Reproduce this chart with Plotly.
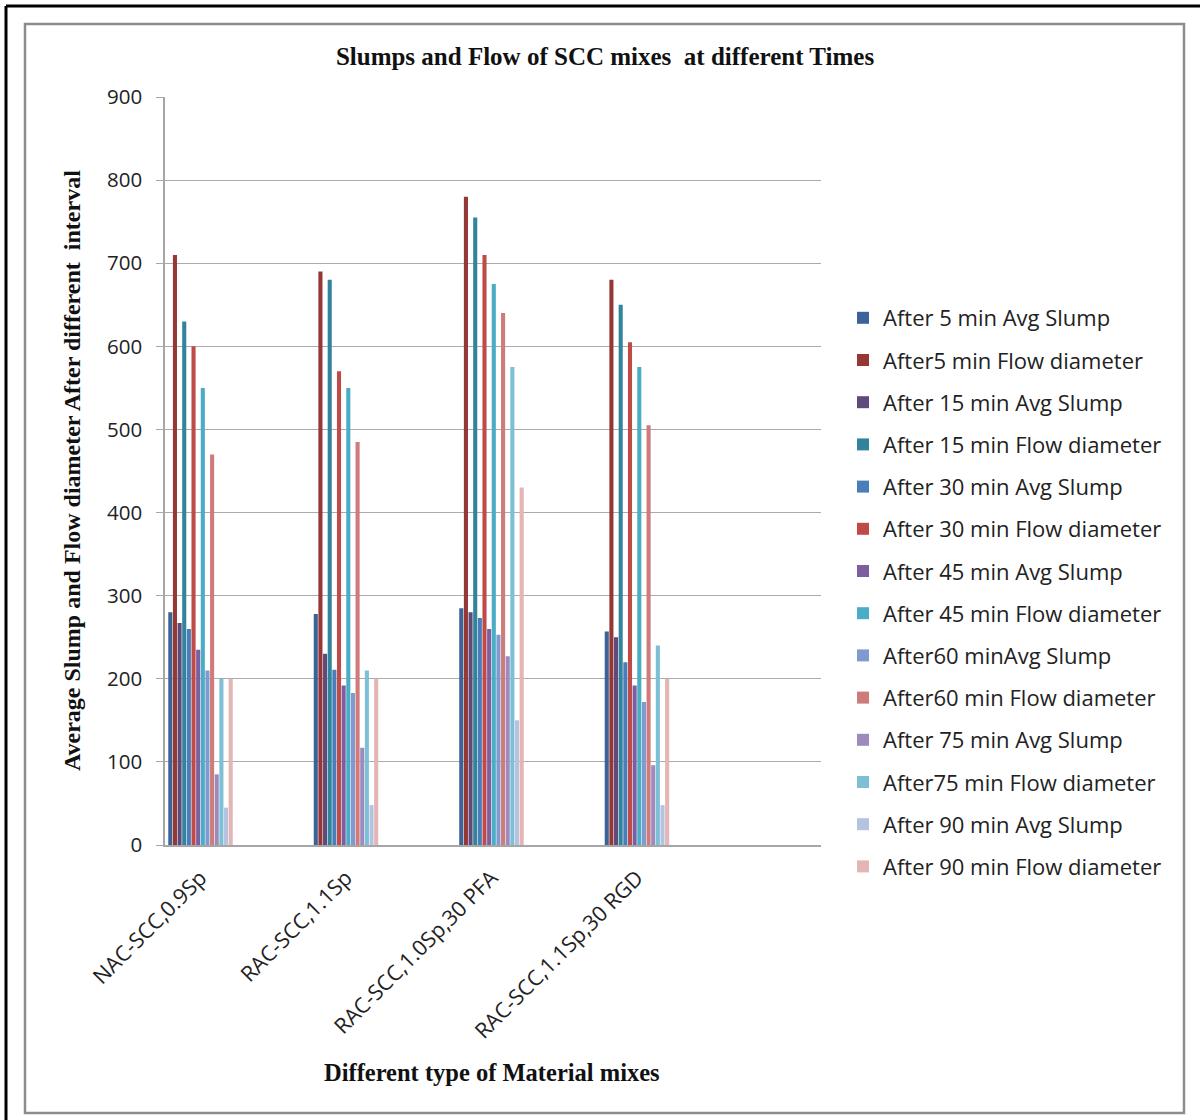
import plotly.graph_objects as go

# Mix designs on the category axis
mixes = ["NAC-SCC,0.9Sp", "RAC-SCC,1.1Sp", "RAC-SCC,1.0Sp,30 PFA", "RAC-SCC,1.1Sp,30 RGD"]

# Slump / flow readings (mm) for each mix, one list per time step
slump_5 = [280, 278, 285, 257]
flow_5 = [710, 690, 780, 680]
slump_15 = [267, 230, 280, 250]
flow_15 = [630, 680, 755, 650]
slump_30 = [260, 211, 273, 220]
flow_30 = [600, 570, 710, 605]
slump_45 = [235, 192, 260, 192]
flow_45 = [550, 550, 675, 575]
slump_60 = [210, 183, 253, 172]
flow_60 = [470, 485, 640, 505]
slump_75 = [85, 117, 227, 96]
flow_75 = [200, 210, 575, 240]
slump_90 = [45, 48, 150, 48]
flow_90 = [200, 200, 430, 200]

series_names = [
    "After 5 min Avg Slump", "After5 min Flow diameter",
    "After 15 min Avg Slump", "After 15 min Flow diameter",
    "After 30 min Avg Slump", "After 30 min Flow diameter",
    "After 45 min Avg Slump", "After 45 min Flow diameter",
    "After60 minAvg Slump", "After60 min Flow diameter",
    "After 75 min Avg Slump", "After75 min Flow diameter",
    "After 90 min Avg Slump", "After 90 min Flow diameter",
]
series_values = [
    slump_5, flow_5, slump_15, flow_15, slump_30, flow_30, slump_45, flow_45,
    slump_60, flow_60, slump_75, flow_75, slump_90, flow_90,
]
series_colors = [
    "#3C6397", "#953735", "#604A7B", "#31849B", "#4A7EBB", "#BE4B48", "#7D5FA0",
    "#4BACC6", "#7F9ACE", "#CF7B79", "#9E8BBE", "#7DBFD4", "#B5C3E0", "#E3B5B5",
]

y_ticks = [0, 100, 200, 300, 400, 500, 600, 700, 800, 900]

fig = go.Figure()
for name, vals, col in zip(series_names, series_values, series_colors):
    fig.add_trace(go.Bar(
        x=mixes, y=vals, name=name, legendgroup=name,
        marker=dict(color=col, line=dict(width=0)),
    ))

# plot-area geometry in pixels, used to place frame shapes in paper units
L, R, T, B = 165, 821, 97, 845
W, H = 1200, 1120


def px_x(px):
    return (px - L) / (R - L)


def px_y(py):
    return (B - py) / (B - T)


serif = "Liberation Serif"
sans = "Open Sans"

fig.update_layout(
    width=W, height=H,
    margin=dict(l=L, r=W - R, t=T, b=H - B),
    paper_bgcolor="white", plot_bgcolor="white",
    barmode="group", bargap=0.553, bargroupgap=0.12,
    title=dict(
        text="<b>Slumps and Flow of SCC mixes  at different Times</b>",
        font=dict(family=serif, size=25, color="#111111"),
        x=605 / W, xanchor="center", xref="container",
        y=1 - 56 / H, yanchor="middle", yref="container",
    ),
    xaxis=dict(
        type="category", range=[-0.244, 4.265],
        showline=True, linecolor="#A6A6A6", linewidth=1.5,
        showgrid=False, ticks="", tickangle=-45, ticklabelstandoff=10,
        tickfont=dict(family=sans, size=21.5, color="#222222"),
    ),
    yaxis=dict(
        range=[0, 900], tickvals=y_ticks,
        showline=True, linecolor="#A6A6A6", linewidth=1.5,
        showgrid=True, gridcolor="#ABABAB", gridwidth=1,
        zeroline=False,
        ticks="outside", ticklen=7, tickcolor="#A6A6A6",
        ticklabelstandoff=10,
        tickfont=dict(family=sans, size=20.5, color="#222222"),
    ),
    legend=dict(
        xref="container", yref="container",
        x=843 / W, xanchor="left",
        y=1 - 297 / H, yanchor="top",
        maxheight=1,
        font=dict(family=sans, size=22, color="#222222"),
        tracegroupgap=10.6, traceorder="grouped",
        bgcolor="rgba(0,0,0,0)",
    ),
    showlegend=True,
    annotations=[
        dict(
            text="<b>Average Slump and Flow diameter After different  interval</b>",
            xref="paper", yref="paper", x=px_x(72), y=px_y(471),
            xanchor="center", yanchor="middle", textangle=-90, showarrow=False,
            font=dict(family=serif, size=24, color="#111111"),
        ),
        dict(
            text="<b>Different type of Material mixes</b>",
            xref="paper", yref="paper", x=px_x(492), y=px_y(1072),
            xanchor="center", yanchor="middle", showarrow=False,
            font=dict(family=serif, size=24.5, color="#111111"),
        ),
    ],
    shapes=[
        # chart-area frame
        dict(type="rect", xref="paper", yref="paper",
             x0=px_x(25), x1=px_x(1184), y0=px_y(1113), y1=px_y(24),
             line=dict(color="#8C8C8C", width=2.5), fillcolor="rgba(0,0,0,0)",
             layer="below"),
        # outer page border
        dict(type="line", xref="paper", yref="paper",
             x0=px_x(6), x1=px_x(6), y0=px_y(1125), y1=px_y(6),
             line=dict(color="black", width=3)),
        dict(type="line", xref="paper", yref="paper",
             x0=px_x(6), x1=px_x(1210), y0=px_y(6), y1=px_y(6),
             line=dict(color="black", width=3)),
    ],
)

fig.write_html("out.html")
